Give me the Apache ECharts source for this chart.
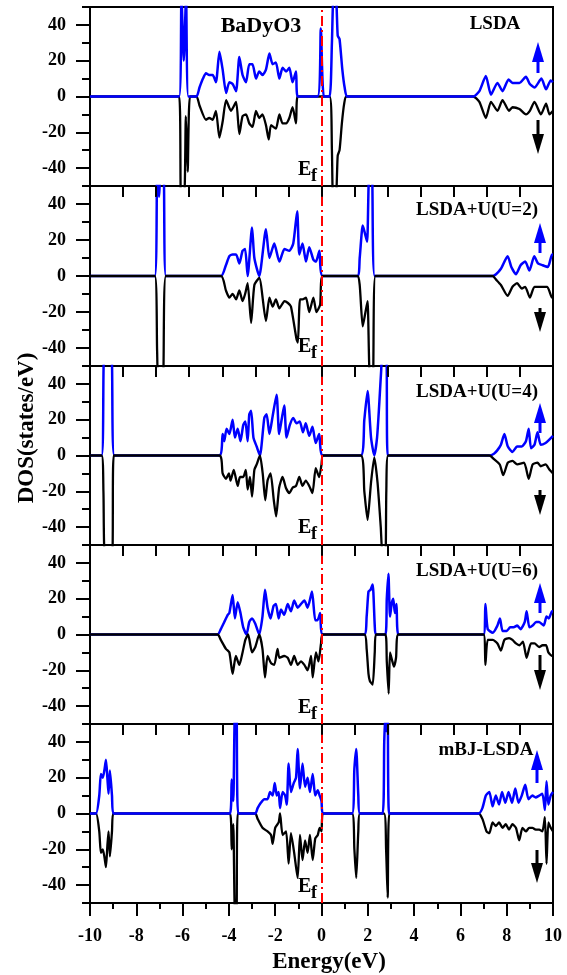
<!DOCTYPE html>
<html lang="en">
<head>
    <meta charset="UTF-8">
    <title>BaDyO3 DOS</title>
    <script src="https://cdn.jsdelivr.net/npm/echarts@6.0.0/dist/echarts.min.js"></script>
    <style type="text/css">
        html, body {
            margin: 0;
            padding: 0;
            background: #ffffff;
        }

        #dos-chart {
            width: 567px;
            height: 975px;
        }
    </style>
</head>
<body>
<div id="dos-chart"></div>
<script type="text/javascript">
    // 5 panels, [energy(eV), DOS], values above +-50 are clipped
    const panelNames = ["LSDA", "LSDA+U(U=2)", "LSDA+U(U=4)", "LSDA+U(U=6)", "mBJ-LSDA"];
    const yTickLabels = [-40, -20, 0, 20, 40];
    const yMinorTicks = [-50, -30, -10, 10, 30, 50];
    const xTickLabels = [-10, -8, -6, -4, -2, 0, 2, 4, 6, 8, 10];
    // ticks on the top edge of the lower panels (14 steps across the range)
    const topTicks = [-10, -8.571, -7.143, -5.714, -4.286, -2.857, -1.429, 0, 1.429, 2.857, 4.286, 5.714, 7.143, 8.571, 10];
    const topTickLen = 6;  //in DOS units, about 11px

    const lsdaUp = [[-10, 0], [-6.15, 0], [-6.05, 56], [-5.95, 20], [-5.85, 56], [-5.75, 0], [-5.4, 0], [-5.27, 5], [-5.12, 10],
        [-4.99, 13], [-4.85, 12], [-4.7, 12], [-4.56, 8], [-4.41, 25], [-4.27, 15], [-4.12, 2], [-3.98, 8], [-3.84, 7],
        [-3.69, 3], [-3.55, 22], [-3.41, 12], [-3.26, 8], [-3.12, 18], [-2.98, 18], [-2.83, 10], [-2.69, 14], [-2.55, 12],
        [-2.4, 15], [-2.25, 24], [-2.11, 18], [-1.97, 19], [-1.82, 10], [-1.68, 16], [-1.53, 14], [-1.39, 16], [-1.25, 8],
        [-1.1, 14], [-1.03, 0], [-0.17, 0], [-0.03, 38], [0.1, 0], [0.35, 0], [0.45, 30], [0.52, 56], [0.62, 56], [0.7, 34],
        [0.78, 32], [0.9, 15], [1.0, 5], [1.12, 0], [6.55, 0], [6.82, 3], [7.1, 11.5], [7.32, 1], [7.6, 7.6], [7.82, 3],
        [8.08, 9.5], [8.25, 7.6], [8.55, 7.6], [8.83, 11], [9.0, 7], [9.2, 5], [9.5, 10], [9.7, 4], [9.9, 9], [10, 8]];
    const lsdaDn = [[-10, 0], [-6.15, 0], [-6.07, -56], [-5.93, -56], [-5.86, -11], [-5.78, -42], [-5.68, 0], [-5.4, 0],
        [-5.27, -5], [-4.99, -13], [-4.85, -12], [-4.7, -13], [-4.56, -8], [-4.41, -23], [-4.27, -14], [-4.12, -2],
        [-3.91, -8], [-3.69, -3], [-3.55, -21], [-3.41, -11], [-3.26, -10], [-3.12, -15], [-2.98, -17], [-2.83, -8],
        [-2.69, -12], [-2.55, -10], [-2.4, -16], [-2.28, -24], [-2.18, -16], [-1.97, -18], [-1.82, -10], [-1.68, -15],
        [-1.53, -15], [-1.39, -12], [-1.25, -6], [-1.1, -15], [-1.03, 0], [0.35, 0], [0.45, -30], [0.5, -56], [0.62, -56],
        [0.7, -33], [0.78, -30], [0.88, -15], [0.98, -4], [1.08, 0], [6.55, 0], [6.82, -3], [7.1, -12], [7.32, -3],
        [7.6, -8], [7.82, -2], [8.1, -8], [8.25, -6], [8.55, -7], [8.83, -10], [9.0, -8], [9.2, -3], [9.48, -10],
        [9.7, -4], [9.85, -10], [10, -8]];

    const u2Up = [[-10, 0], [-7.2, 0], [-7.1, 56], [-7.02, 44], [-6.95, 56], [-6.82, 56], [-6.72, 0], [-4.34, 0],
        [-4.13, 6], [-3.98, 11], [-3.84, 12], [-3.69, 12], [-3.55, 7], [-3.41, 14], [-3.3, 15], [-3.19, 0], [-3.0, 27],
        [-2.9, 10], [-2.69, 0], [-2.4, 26], [-2.25, 10], [-2.04, 18], [-1.82, 8], [-1.6, 15], [-1.39, 14], [-1.22, 18],
        [-1.05, 36], [-0.96, 12], [-0.82, 18], [-0.67, 8], [-0.53, 16], [-0.35, 9], [-0.24, 8], [-0.09, 14], [0.05, 0],
        [1.55, 0], [1.65, 10], [1.78, 28], [1.85, 25], [1.97, 19], [2.06, 56], [2.18, 56], [2.3, 0], [7.39, 0],
        [7.54, 1], [7.75, 4], [8.04, 11], [8.2, 5], [8.4, 1], [8.6, 6], [8.8, 8], [8.98, 3], [9.19, 11], [9.35, 7],
        [9.55, 6], [9.78, 5], [9.96, 12], [10, 12]];
    const u2Dn = [[-10, 0], [-7.2, 0], [-7.1, -42], [-7.05, -56], [-6.85, -56], [-6.72, 0], [-4.34, 0], [-4.13, -8],
        [-3.98, -12], [-3.84, -10], [-3.69, -13], [-3.55, -8], [-3.41, -14], [-3.3, -10], [-3.19, -4], [-3.04, -26],
        [-2.9, -5], [-2.69, -1], [-2.4, -25], [-2.25, -12], [-2.11, -17], [-1.97, -13], [-1.82, -18], [-1.6, -14],
        [-1.45, -15], [-1.32, -17], [-1.08, -35], [-1.02, -37], [-0.93, -13], [-0.82, -13], [-0.67, -12], [-0.53, -20],
        [-0.35, -12], [-0.22, -20], [-0.06, -16], [0.05, 0], [1.55, 0], [1.65, -5], [1.78, -28], [1.9, -20],
        [1.99, -14], [2.09, -56], [2.22, -56], [2.33, 0], [7.39, 0], [7.54, -2], [7.75, -5], [8.04, -11], [8.25, -6],
        [8.45, -4], [8.65, -7], [8.8, -6], [9.0, -12], [9.2, -6], [9.5, -6], [9.75, -6], [9.96, -12], [10, -12]];

    const u4Up = [[-10, 0], [-9.5, 0], [-9.38, 56], [-9.08, 56], [-8.95, 0], [-4.41, 0], [-4.27, 12], [-4.2, 8],
        [-4.1, 15], [-3.98, 12], [-3.84, 20], [-3.74, 10], [-3.62, 15], [-3.5, 8], [-3.38, 17], [-3.29, 19], [-3.19, 8],
        [-3.12, 23], [-3.04, 25], [-2.94, 10], [-2.8, 5], [-2.66, 0], [-2.47, 21], [-2.37, 23], [-2.25, 12],
        [-2.11, 22], [-1.94, 34], [-1.83, 12], [-1.71, 21], [-1.61, 28], [-1.51, 10], [-1.37, 17], [-1.22, 21],
        [-1.08, 18], [-0.94, 19], [-0.8, 13], [-0.68, 18], [-0.53, 11], [-0.39, 16], [-0.25, 7], [-0.1, 12], [0.05, 0],
        [1.7, 0], [1.85, 20], [1.99, 36], [2.14, 10], [2.28, 0], [2.4, 10], [2.5, 30], [2.58, 48], [2.63, 56],
        [2.8, 56], [2.86, 0], [7.25, 0], [7.45, 1], [7.6, 3], [7.75, 6], [7.9, 12], [8.05, 5], [8.25, 2], [8.45, 5],
        [8.65, 5], [8.83, 8], [8.95, 15], [9.05, 4], [9.2, 6], [9.33, 13], [9.47, 6], [9.68, 7], [9.85, 9], [10, 11]];
    const u4Dn = [[-10, 0], [-9.5, 0], [-9.42, -20], [-9.35, -56], [-9.05, -56], [-8.97, 0], [-4.41, 0], [-4.27, -10],
        [-4.13, -13], [-4.0, -10], [-3.93, -14], [-3.79, -8], [-3.62, -17], [-3.52, -12], [-3.38, -12], [-3.27, -8],
        [-3.19, -19], [-3.09, -12], [-3.0, -23], [-2.9, -8], [-2.8, -5], [-2.66, 0], [-2.54, -10], [-2.43, -25],
        [-2.33, -14], [-2.2, -10], [-2.06, -25], [-1.96, -34], [-1.83, -18], [-1.68, -12], [-1.54, -18], [-1.39, -21],
        [-1.25, -18], [-1.1, -17], [-0.96, -12], [-0.82, -17], [-0.68, -14], [-0.53, -17], [-0.39, -21], [-0.25, -7],
        [-0.1, -12], [0.0, -5], [0.07, 0], [1.7, 0], [1.85, -20], [1.99, -36], [2.14, -15], [2.28, -1], [2.42, -15],
        [2.56, -40], [2.64, -56], [2.76, -56], [2.8, -20], [2.88, 0], [7.25, 0], [7.45, -2], [7.7, -5], [7.85, -11],
        [8.05, -4], [8.25, -3], [8.45, -5], [8.75, -4], [8.95, -13], [9.12, -5], [9.33, -4], [9.47, -6], [9.68, -5],
        [9.85, -8], [10, -10]];

    const u6Up = [[-10, 0], [-4.49, 0], [-4.35, 3], [-4.2, 7], [-4.05, 11], [-3.98, 12], [-3.84, 22], [-3.74, 9],
        [-3.62, 18], [-3.5, 12], [-3.38, 4], [-3.24, 0], [-3.12, 7], [-3.0, 9], [-2.86, 6], [-2.69, 0], [-2.55, 10],
        [-2.44, 25], [-2.33, 15], [-2.2, 9], [-2.07, 16], [-1.97, 17], [-1.85, 9], [-1.75, 14], [-1.61, 11],
        [-1.46, 17], [-1.32, 13], [-1.18, 19], [-1.03, 15], [-0.89, 17], [-0.74, 19], [-0.6, 15], [-0.41, 24],
        [-0.27, 8], [-0.17, 8], [-0.06, 12], [0.05, 0], [1.85, 0], [1.95, 10], [2.03, 24], [2.12, 25], [2.21, 28],
        [2.3, 5], [2.35, 0], [2.76, 0], [2.82, 20], [2.89, 34], [2.96, 10], [3.04, 18], [3.1, 20], [3.17, 12],
        [3.24, 17], [3.32, 0], [7.0, 0], [7.08, 17], [7.18, 3], [7.4, 1], [7.6, 5], [7.71, 9], [7.82, 2], [8.0, 2],
        [8.15, 4], [8.3, 4], [8.45, 5], [8.6, 3], [8.78, 7], [8.86, 13], [8.98, 4], [9.12, 5], [9.27, 7], [9.4, 7],
        [9.6, 5], [9.72, 10], [9.82, 9], [9.96, 13], [10, 13]];
    const u6Dn = [[-10, 0], [-4.49, 0], [-4.35, -3], [-4.13, -8], [-3.98, -10], [-3.84, -22], [-3.7, -12],
        [-3.55, -17], [-3.41, -10], [-3.29, -3], [-3.17, 0], [-3.0, -10], [-2.86, -7], [-2.69, 0], [-2.55, -8],
        [-2.44, -24], [-2.33, -12], [-2.18, -16], [-2.04, -17], [-1.9, -8], [-1.82, -13], [-1.61, -12], [-1.46, -13],
        [-1.32, -17], [-1.18, -12], [-1.03, -17], [-0.89, -15], [-0.74, -17], [-0.6, -20], [-0.45, -12], [-0.38, -24],
        [-0.24, -10], [-0.13, -15], [-0.02, -5], [0.05, 0], [1.85, 0], [1.95, -8], [2.03, -22], [2.09, -26],
        [2.21, -28], [2.3, -10], [2.35, 0], [2.76, 0], [2.82, -15], [2.9, -33], [2.96, -10], [3.06, -15], [3.13, -18],
        [3.22, -13], [3.32, 0], [7.0, 0], [7.08, -17], [7.18, -3], [7.4, -3], [7.6, -5], [7.75, -9], [7.9, -3],
        [8.1, -2], [8.25, -3], [8.4, -5], [8.55, -6], [8.7, -4], [8.86, -13], [9.05, -5], [9.2, -5], [9.4, -7],
        [9.55, -6], [9.7, -6], [9.8, -10], [9.96, -12], [10, -12]];

    const mbjUp = [[-10, 0], [-9.74, 0], [-9.6, 10], [-9.53, 22], [-9.45, 20], [-9.38, 24], [-9.31, 30], [-9.25, 20],
        [-9.2, 11], [-9.14, 24], [-9.05, 10], [-8.99, 0], [-3.95, 0], [-3.88, 19], [-3.81, 7], [-3.74, 56],
        [-3.67, 56], [-3.6, 0], [-2.86, 0], [-2.76, 3], [-2.62, 6], [-2.47, 8], [-2.33, 8], [-2.22, 12], [-2.11, 10],
        [-2.02, 17], [-1.93, 10], [-1.85, 12], [-1.79, 3], [-1.68, 12], [-1.57, 10], [-1.5, 5], [-1.42, 28],
        [-1.32, 12], [-1.2, 17], [-1.1, 20], [-1.03, 36], [-0.93, 14], [-0.82, 28], [-0.71, 15], [-0.6, 20],
        [-0.5, 12], [-0.38, 22], [-0.27, 10], [-0.16, 13], [-0.08, 10], [0.0, 7], [0.06, 0], [1.32, 0], [1.42, 25],
        [1.5, 36], [1.59, 10], [1.66, 0], [2.64, 0], [2.71, 40], [2.76, 56], [2.8, 46], [2.86, 56], [2.92, 0],
        [6.79, 0], [6.95, 3], [7.1, 10], [7.25, 12], [7.39, 4], [7.53, 10], [7.67, 5], [7.8, 12], [7.94, 6],
        [8.08, 12], [8.23, 6], [8.37, 14], [8.51, 6], [8.65, 10], [8.8, 16], [8.94, 8], [9.11, 10], [9.25, 9],
        [9.4, 10], [9.54, 11], [9.65, 2], [9.72, 18], [9.8, 5], [9.9, 10], [10, 12]];
    const mbjDn = [[-10, 0], [-9.74, 0], [-9.6, -10], [-9.53, -22], [-9.45, -20], [-9.38, -24], [-9.31, -30],
        [-9.25, -18], [-9.2, -10], [-9.14, -24], [-9.05, -10], [-8.99, 0], [-3.95, 0], [-3.88, -20], [-3.81, -6],
        [-3.74, -56], [-3.67, -56], [-3.62, 0], [-2.86, 0], [-2.76, -3], [-2.55, -8], [-2.33, -10], [-2.18, -12],
        [-2.11, -17], [-2.0, -8], [-1.85, -5], [-1.79, 0], [-1.68, -12], [-1.53, -10], [-1.42, -28], [-1.32, -11],
        [-1.18, -22], [-1.03, -36], [-0.93, -12], [-0.82, -26], [-0.71, -15], [-0.6, -22], [-0.5, -12], [-0.38, -26],
        [-0.27, -14], [-0.16, -12], [-0.08, -8], [0.0, -10], [0.06, 0], [1.32, 0], [1.42, -20], [1.5, -36],
        [1.59, -10], [1.66, 0], [2.7, 0], [2.79, -20], [2.86, -47], [2.93, 0], [6.79, 0], [6.95, -3], [7.13, -10],
        [7.25, -11], [7.39, -5], [7.53, -7], [7.67, -5], [7.82, -8], [7.96, -6], [8.1, -9], [8.25, -6], [8.4, -8],
        [8.54, -15], [8.68, -8], [8.83, -10], [8.97, -8], [9.11, -8], [9.25, -9], [9.4, -9], [9.54, -10],
        [9.65, -2], [9.72, -28], [9.8, -5], [9.9, -8], [10, -10]];

    const upData = [lsdaUp, u2Up, u4Up, u6Up, mbjUp];
    const dnData = [lsdaDn, u2Dn, u4Dn, u6Dn, mbjDn];
    const blackOnTop = [false, true, true, true, false];  //which spin covers the zero line

    // layout (px)
    const font = "Liberation Serif";
    const plotLeft = 90, plotRight = 14;
    const gridTops = [7, 186, 366, 545, 724];
    const gridH = 179;
    const labelPos = [[495, 24], [477, 210], [477, 392], [477, 571], [486, 750]];
    const arrowX = [538, 540, 540, 540, 537];
    const upArrow = [[42, 73], [223, 253], [403, 433], [583, 613], [750, 783]];
    const dnArrow = [[120, 154], [308, 332], [490, 515], [655, 690], [850, 883]];
    const efY = [170, 347, 528, 708, 887];

    let grids = [], xAxes = [], yAxes = [], series = [], graphics = [];
    for (let i = 0; i < 5; i++) {
        const last = i === 4;
        grids.push({
            left: plotLeft, right: plotRight, top: gridTops[i], height: i === 1 ? gridH + 1 : gridH,
            show: true, borderColor: "#000", borderWidth: 2, backgroundColor: "transparent"
        });
        let xAxis = {
            type: "value", gridIndex: i, position: "bottom", min: -10, max: 10,
            interval: last ? 2 : 20 / 14,
            axisLine: {onZero: false, lineStyle: {color: "#000", width: 2}},
            axisTick: {show: true, length: last ? 13 : 11, lineStyle: {color: "#000", width: 2}},
            axisLabel: {show: false},
            splitLine: {show: false}
        };
        if (last) {
            xAxis.minorTick = {show: true, splitNumber: 2, length: 6, lineStyle: {color: "#000", width: 2}};
            xAxis.axisLabel = {
                show: true, margin: 24, color: "#000", fontFamily: font, fontWeight: "bold", fontSize: 18,
                showMinLabel: true, showMaxLabel: true, customValues: xTickLabels
            };
        }
        xAxes.push(xAxis);
        yAxes.push({
            type: "value", gridIndex: i, position: "left", min: -50, max: 50,
            axisLine: {show: true, onZero: false, lineStyle: {color: "#000", width: 2}},
            axisTick: {show: true, length: 14, customValues: yTickLabels, lineStyle: {color: "#000", width: 2}},
            axisLabel: {
                customValues: yTickLabels, margin: 24, color: "#000",
                fontFamily: font, fontWeight: "bold", fontSize: 18
            },
            splitLine: {show: false}
        });
        yAxes.push({
            type: "value", gridIndex: i, position: "left", offset: 0, min: -50, max: 50,
            axisLine: {show: false, onZero: false},
            axisTick: {show: true, length: 8, customValues: yMinorTicks, lineStyle: {color: "#000", width: 2}},
            axisLabel: {show: false, customValues: yMinorTicks},
            splitLine: {show: false}
        });

        const up = {
            type: "line", xAxisIndex: i, yAxisIndex: 2 * i, data: upData[i], showSymbol: false, smooth: 0.2,
            lineStyle: {color: "#0000ff", width: 2.5}, z: blackOnTop[i] ? 2 : 3, silent: true
        };
        const dn = {
            type: "line", xAxisIndex: i, yAxisIndex: 2 * i, data: dnData[i], showSymbol: false, smooth: 0.2,
            lineStyle: {color: "#000000", width: 2.3}, z: blackOnTop[i] ? 3 : 2, silent: true
        };
        series.push(up, dn);

        // Fermi level, plus the short inward ticks on the top edge of panels 2-5
        let markData = [{xAxis: 0, lineStyle: {color: "#ff0000", type: [10, 4, 2, 4], width: 2}}];
        if (i > 0) {
            topTicks.forEach(v => {
                markData.push([
                    {coord: [v, 50], lineStyle: {color: "#000", type: "solid", width: 2}},
                    {coord: [v, 50 - topTickLen]}
                ]);
            });
        }
        series.push({
            type: "line", xAxisIndex: i, yAxisIndex: 2 * i, data: [], z: 4, silent: true,
            markLine: {
                silent: true, symbol: ["none", "none"], label: {show: false}, animation: false,
                lineStyle: {color: "#ff0000", type: [10, 4, 2, 4], width: 2},
                data: markData
            }
        });

        graphics.push({
            type: "text", x: labelPos[i][0], y: labelPos[i][1], z: 10,
            style: {
                text: panelNames[i], fill: "#000", font: "bold 19px '" + font + "'",
                textAlign: "center", textVerticalAlign: "middle"
            }
        });
        // spin arrows
        const ax = arrowX[i];
        graphics.push({
            type: "polygon", z: 10,
            shape: {points: [[ax, upArrow[i][0]], [ax - 6, upArrow[i][0] + 20], [ax + 6, upArrow[i][0] + 20]]},
            style: {fill: "#0000ff"}
        });
        graphics.push({
            type: "rect", z: 10,
            shape: {x: ax - 1.5, y: upArrow[i][0] + 18, width: 3, height: upArrow[i][1] - upArrow[i][0] - 18},
            style: {fill: "#0000ff"}
        });
        graphics.push({
            type: "polygon", z: 10,
            shape: {points: [[ax, dnArrow[i][1]], [ax - 6, dnArrow[i][1] - 20], [ax + 6, dnArrow[i][1] - 20]]},
            style: {fill: "#000"}
        });
        graphics.push({
            type: "rect", z: 10,
            shape: {x: ax - 1.5, y: dnArrow[i][0], width: 3, height: dnArrow[i][1] - dnArrow[i][0] - 18},
            style: {fill: "#000"}
        });
        // E_f
        graphics.push({
            type: "text", x: 298, y: efY[i], z: 10,
            style: {text: "E", fill: "#000", font: "bold 20px '" + font + "'", textAlign: "left", textVerticalAlign: "middle"}
        });
        graphics.push({
            type: "text", x: 311, y: efY[i] + 6, z: 10,
            style: {text: "f", fill: "#000", font: "bold 18px '" + font + "'", textAlign: "left", textVerticalAlign: "middle"}
        });
    }

    graphics.push({
        type: "text", x: 261, y: 26, z: 10,
        style: {text: "BaDyO3", fill: "#000", font: "bold 22px '" + font + "'", textAlign: "center", textVerticalAlign: "middle"}
    });
    graphics.push({
        type: "text", x: 329, y: 962, z: 10,
        style: {text: "Energy(eV)", fill: "#000", font: "bold 23px '" + font + "'", textAlign: "center", textVerticalAlign: "middle"}
    });
    graphics.push({
        type: "text", x: 27, y: 428, z: 10, rotation: Math.PI / 2,
        style: {text: "DOS(states/eV)", fill: "#000", font: "bold 23px '" + font + "'", textAlign: "center", textVerticalAlign: "middle"}
    });

    const dosChart = echarts.init(document.getElementById("dos-chart"), null, {renderer: "canvas"});
    dosChart.setOption({
        animation: false,
        backgroundColor: "#ffffff",
        grid: grids,
        xAxis: xAxes,
        yAxis: yAxes,
        series: series,
        graphic: graphics
    });
</script>
</body>
</html>
